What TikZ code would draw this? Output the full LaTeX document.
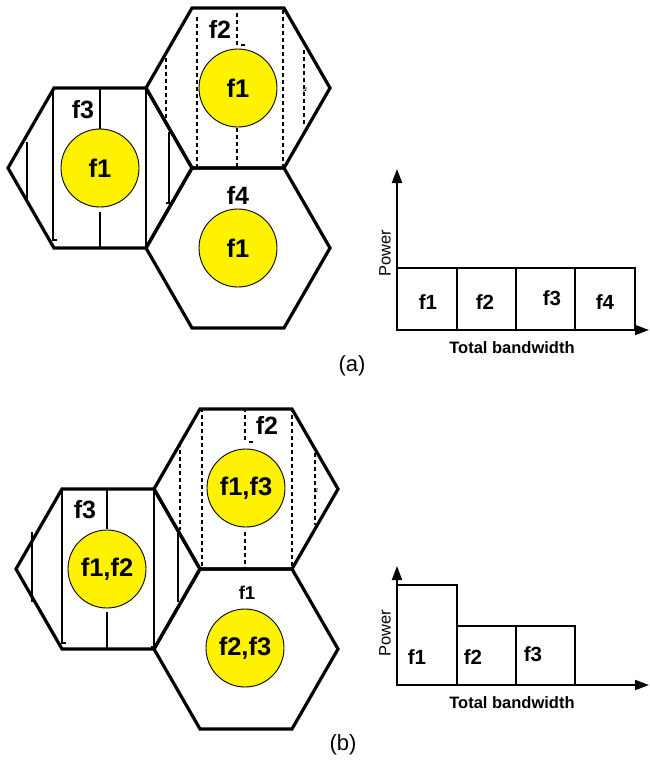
\documentclass[tikz,border=0pt]{standalone}
\usepackage{fontspec}
\setmainfont{Liberation Sans}
\usetikzlibrary{arrows.meta}
\tikzset{
  hexline/.style={line width=3.2pt, line join=miter},
  solidline/.style={line width=2.8pt},
  dashline/.style={line width=2.5pt, dash pattern=on 4pt off 3pt},
  cell/.style={circle, draw=black, line width=0.9pt, fill=yellow, minimum size=78pt, inner sep=0pt, font=\bfseries\fontsize{25.5}{25.5}\selectfont},
  biglab/.style={inner sep=0pt, font=\bfseries\fontsize{25}{25}\selectfont},
  midlab/.style={inner sep=0pt, font=\bfseries\fontsize{18.5}{18.5}\selectfont},
  barlab/.style={inner sep=0pt, font=\bfseries\fontsize{20.5}{20.5}\selectfont},
  axis/.style={line width=1.8pt, -{Triangle[length=14pt,width=10pt]}},
  bar/.style={draw, line width=1.4pt},
  axlab/.style={inner sep=0pt, font=\fontsize{16.5}{16.5}\selectfont},
  xlab/.style={inner sep=0pt, font=\bfseries\fontsize{16.5}{16.5}\selectfont},
  caplab/.style={inner sep=0pt, font=\fontsize{22}{22}\selectfont}
}
\newcommand\hexcell[1]{\draw[hexline] #1 ++(-92,0) -- ++(46,-80) -- ++(92,0) -- ++(46,80) -- ++(-46,80) -- ++(-92,0) -- cycle;}
\begin{document}
\begin{tikzpicture}[x=1pt,y=-1pt]
\useasboundingbox (0,0) rectangle (649,764);
\fill[white] (0,0) rectangle (649,764);

% ================= (a) =================
\hexcell{(238,88)}
\hexcell{(100,168)}
\hexcell{(238,248)}
% solid lines in left cell
\draw[solidline] (53,89) -- (53,240) -- (57,240);
\draw[solidline] (27,142) -- (27,202);
\draw[solidline] (100,89) -- (100,129);
\draw[solidline] (100,212) -- (100,248);
\draw[solidline] (146,89) -- (146,248);
\draw[solidline] (169,132) -- (169,203) -- (166,203);
% dashed lines in top cell
\draw[dashline] (197,17) -- (197,167);
\draw[dashline] (237,13) -- (237,45);
\draw[line width=2pt] (241,45) -- (245,45);
\draw[dashline] (237,128) -- (237,167);
\draw[dashline] (283,10) -- (283,167);
\draw[dashline] (166,58) -- (166,120);
\draw[dashline] (304,50) -- (304,125);
\draw[line width=0.7pt] (306,87) .. controls (306,91) .. (303,91);
% cells
\node[cell] (ta) at (238,88) {f1};
\node[cell] (la) at (100,168) {f1};
\node[cell] (ba) at (238,248) {f1};
\node[biglab] (f2a) at (220,29) {f2};
\node[biglab] (f3a) at (83,110) {f3};
\node[biglab] (f4a) at (238,195) {f4};
% chart (a)
\coordinate (oa) at (397,330);
\coordinate (ya) at (397,169);
\coordinate (xa) at (649,330);
\draw[bar] (397,268) rectangle (457,330);
\draw[bar] (457,268) rectangle (516,330);
\draw[bar] (516,268) rectangle (575,330);
\draw[bar] (575,268) rectangle (635,330);
\draw[axis] (oa) -- (ya);
\draw[axis] (oa) -- (xa);
\node[barlab] (b1a) at (428,302) {f1};
\node[barlab] (b2a) at (485,302) {f2};
\node[barlab] (b3a) at (552,298) {f3};
\node[barlab] (b4a) at (605,302) {f4};
\node[axlab, rotate=90] (pa) at (385,253) {Power};
\node[xlab] (tba) at (512,348) {Total bandwidth};
\node[caplab] (capa) at (352,366) {(a)};

% ================= (b) =================
\hexcell{(246,489)}
\hexcell{(108,569)}
\hexcell{(246,649)}
\draw[solidline] (32,532) -- (32,602);
\draw[solidline] (62,489) -- (62,643) -- (66,643);
\draw[solidline] (107,489) -- (107,529);
\draw[solidline] (107,612) -- (107,648);
\draw[solidline] (154,489) -- (154,647) -- (151,647);
\draw[solidline] (178,533) -- (178,602);
\draw[dashline] (202,408) -- (202,567);
\draw[dashline] (245,408) -- (245,442);
\draw[line width=2pt] (249,442) -- (253,442);
\draw[dashline] (245,532) -- (245,569);
\draw[dashline] (292,408) -- (292,569);
\draw[dashline] (180,443) -- (180,530);
\draw[dashline] (315,453) -- (315,525);
\draw[line width=0.7pt] (317,488) .. controls (317,492) .. (314,492);
\node[cell] (tb) at (246,488) {f1,f3};
\node[cell] (lb) at (107,569) {f1,f2};
\node[cell] (bb) at (245,648) {f2,f3};
\node[biglab] (f2b) at (267,425) {f2};
\node[biglab] (f3b) at (85,510) {f3};
\node[midlab] (f1b) at (247,593) {f1};
% chart (b)
\coordinate (ob) at (397,685);
\coordinate (yb) at (397,566);
\coordinate (xb) at (649,685);
\draw[bar] (397,585) rectangle (457,685);
\draw[bar] (457,626) rectangle (516,685);
\draw[bar] (516,626) rectangle (575,685);
\draw[axis] (ob) -- (yb);
\draw[axis] (ob) -- (xb);
\node[barlab] (b1b) at (417,657) {f1};
\node[barlab] (b2b) at (473,657) {f2};
\node[barlab] (b3b) at (533,654) {f3};
\node[axlab, rotate=90] (pb) at (385,633) {Power};
\node[xlab] (tbb) at (512,703) {Total bandwidth};
\node[caplab] (capb) at (343,745) {(b)};
\end{tikzpicture}
\end{document}
